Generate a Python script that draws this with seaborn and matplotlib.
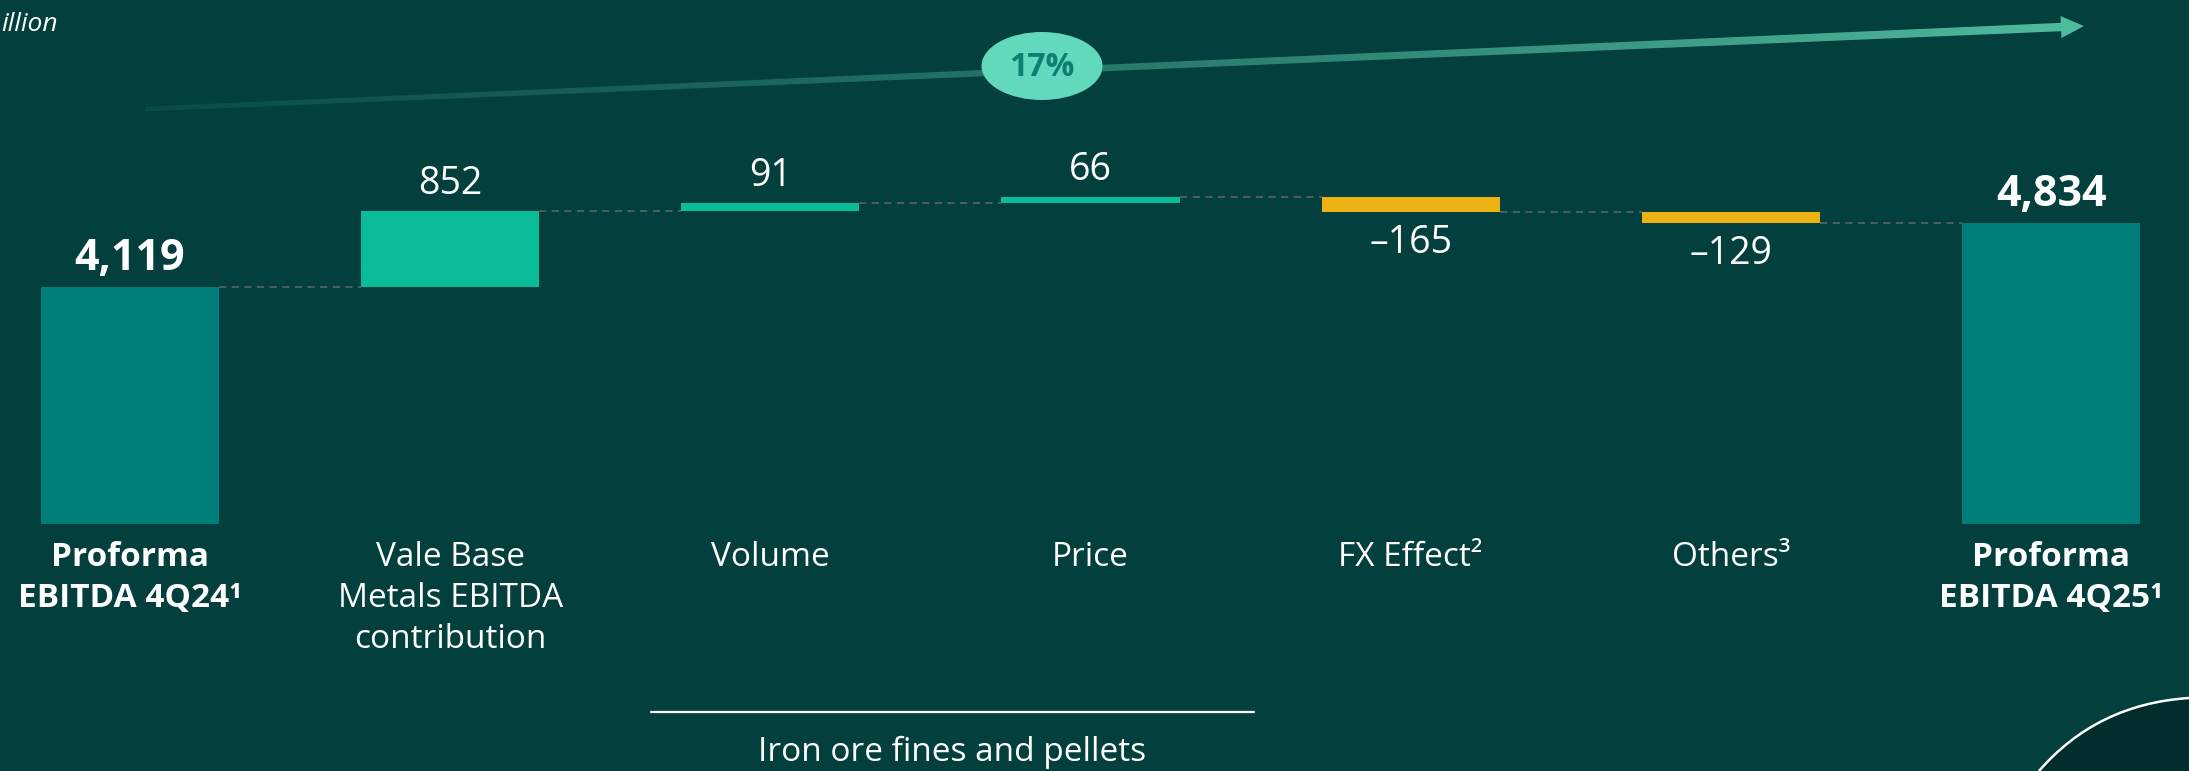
import numpy as np
import matplotlib
matplotlib.use("Agg")
import matplotlib.pyplot as plt
import matplotlib.transforms as mtransforms
import seaborn as sns
from matplotlib.colors import to_rgba
from matplotlib.patches import Ellipse, Polygon, PathPatch
from matplotlib.path import Path

# ----------------------------------------------------------------------
# Data (US$ million)
# ----------------------------------------------------------------------
categories = [
    "Proforma\nEBITDA 4Q24\u00b9",
    "Vale Base\nMetals EBITDA\ncontribution",
    "Volume",
    "Price",
    "FX Effect\u00b2",
    "Others\u00b3",
    "Proforma\nEBITDA 4Q25\u00b9",
]
values = [4119, 852, 91, 66, -165, -129, 4834]
is_total = [True, False, False, False, False, False, True]
growth_label = "17%"
group_label = "Iron ore fines and pellets"
unit_label = "illion"

# totals are drawn from a truncated floor, like the slide
AXIS_FLOOR = 1465

# ----------------------------------------------------------------------
# Style
# ----------------------------------------------------------------------
W, H = 2189, 771
BG = "#023f3d"
C_TOTAL = "#007f7a"
C_UP = "#0bbc98"
C_DOWN = "#ecb212"
BAR_W = 0.556

# waterfall geometry from the values
bottoms, heights, levels = [], [], []
run = 0
for v, tot in zip(values, is_total):
    if tot:
        bottoms.append(AXIS_FLOOR)
        heights.append(v - AXIS_FLOOR)
        run = v
    else:
        bottoms.append(run)
        heights.append(v)
        run += v
    levels.append(run)

sns.set_theme(style="white")
plt.rcParams["font.family"] = ["Open Sans", "DejaVu Sans"]

fig = plt.figure(figsize=(W / 100, H / 100), dpi=100, facecolor=BG)
ax = fig.add_axes([0, 0, 1, 1])
ax.set_facecolor(BG)

sns.barplot(x=categories, y=heights, bottom=bottoms, width=BAR_W,
            errorbar=None, color=C_UP, saturation=1, linewidth=0,
            ax=ax, zorder=3)

for patch, v, tot in zip(ax.patches, values, is_total):
    patch.set_facecolor(C_TOTAL if tot else (C_UP if v >= 0 else C_DOWN))
    patch.set_edgecolor("none")

ax.set_xlim(-0.406, 6.431)
ax.set_ylim(-1301, 7333)
ax.axis("off")

# dashed connectors between bars
for i in range(len(values) - 1):
    ax.plot([i + BAR_W / 2, i + 1 - BAR_W / 2], [levels[i], levels[i]],
            color="#56625e", lw=1.3, ls=(0, (4, 3)), zorder=2)

# value labels
for i, (v, tot) in enumerate(zip(values, is_total)):
    top = max(bottoms[i], bottoms[i] + heights[i])
    low = min(bottoms[i], bottoms[i] + heights[i])
    if tot:
        ax.annotate(f"{v:,}", (i, top), xytext=(0, 12.2), textcoords="offset points",
                    ha="center", va="baseline", fontsize=31, fontweight="bold",
                    color="white")
    elif v >= 0:
        ax.annotate(f"{v:,}", (i, top), xytext=(0, 12.2), textcoords="offset points",
                    ha="center", va="baseline", fontsize=27, color="white")
    else:
        ax.annotate(f"\u2013{abs(v):,}", (i, low), xytext=(0, -8.6),
                    textcoords="offset points", ha="center", va="top",
                    fontsize=27, color="white")

# category labels under the bars
trans = mtransforms.blended_transform_factory(ax.transData, ax.transAxes)
for i, (lab, tot) in enumerate(zip(categories, is_total)):
    ax.text(i, 1 - 541 / H, lab, transform=trans, ha="center", va="top",
            fontsize=24, linespacing=1.33, color="white",
            fontweight="bold" if tot else "normal")

# ----------------------------------------------------------------------
# Decorations in pixel space
# ----------------------------------------------------------------------
ov = fig.add_axes([0, 0, 1, 1], zorder=5)
ov.patch.set_alpha(0)

# growth arrow: gradient band clipped to a tapered strip
x0, y0, x1, y1 = 145, 109, 2062, 27
d = np.array([x1 - x0, y1 - y0], dtype=float)
d /= np.hypot(*d)
perp = np.array([-d[1], d[0]])
p0, p1 = np.array([x0, y0]), np.array([x1, y1])
band = Polygon([p0 + 2.4 * perp, p1 + 4.2 * perp, p1 - 4.2 * perp, p0 - 2.4 * perp],
               closed=True, transform=ov.transData, facecolor="none", lw=0)
ov.add_patch(band)
n = 400
t = np.linspace(0, 1, n)
c0, c1 = np.array(to_rgba("#2a7a6c")), np.array(to_rgba("#50bb9e"))
grad = c0 + (c1 - c0) * t[:, None]
grad[:, 3] = 0.22 + 0.78 * t ** 0.9
img = ov.imshow(grad[None, :, :], extent=(x0, x1 + 1, 120, 10), aspect="auto",
                interpolation="bilinear", zorder=1)
img.set_clip_path(band)

tip = p1 + 22 * d
base = p1 - 1 * d
ov.add_patch(Polygon([tip, base + 11 * perp, base - 11 * perp],
                     closed=True, color="#50bb9e", lw=0, zorder=2))

ov.add_patch(Ellipse((1042, 66), 121, 68, facecolor="#62d9bd", lw=0, zorder=3))
ov.text(1042, 67, growth_label, ha="center", va="center", fontsize=23,
        fontweight="bold", color="#0e7f6f", zorder=4)

# bracket line and group caption
ov.plot([651, 1254], [712, 712], color="white", lw=1.6)
ov.text(952, 736, group_label, ha="center", va="top", fontsize=24, color="white")

# unit label cut at the left edge
ov.text(1, 12, unit_label, ha="left", va="top", fontsize=19,
        style="italic", color="white")

# corner swoosh
verts = [(2039, 771), (2097, 704), (2189, 698), (2189, 771), (2039, 771)]
codes = [Path.MOVETO, Path.CURVE3, Path.CURVE3, Path.LINETO, Path.CLOSEPOLY]
ov.add_patch(PathPatch(Path(verts, codes), facecolor="#012d2c",
                       edgecolor="none", zorder=1))
ov.add_patch(PathPatch(Path(verts[:3], codes[:3]), facecolor="none",
                       edgecolor="white", lw=1.8, zorder=2))

ov.set_xlim(0, W)
ov.set_ylim(H, 0)
ov.axis("off")

fig.savefig("out.png", dpi=100, facecolor=BG)
